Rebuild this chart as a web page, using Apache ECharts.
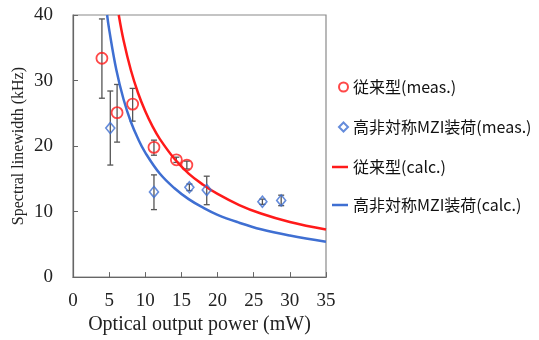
<!DOCTYPE html>
<html>
<head>
<meta charset="utf-8">
<script src="https://cdn.jsdelivr.net/npm/echarts@6/dist/echarts.min.js"></script>
<style>html,body{margin:0;padding:0;background:#fff;}#c{width:539px;height:340px;}</style>
</head>
<body>
<div id="c"></div>
<script>
// ---- data ----
const seriesNames = ['従来型(meas.)', '高非対称MZI装荷(meas.)', '従来型(calc.)', '高非対称MZI装荷(calc.)'];
const xTicks = [0, 5, 10, 15, 20, 25, 30, 35];
const yTicks = [0, 10, 20, 30, 40];

// conventional, measured: [power mW, linewidth kHz]
const convMeasX = [4.0, 6.1, 8.25, 11.2, 14.3, 15.75];
const convMeasY = [33.4, 25.1, 26.4, 19.8, 17.9, 17.1];
const convErrLow = [27.3, 20.6, 23.8, 18.6, 17.5, 16.5];
const convErrHigh = [39.4, 29.4, 28.8, 20.9, 18.3, 17.7];

// high-asymmetry MZI loaded, measured
const mziMeasX = [5.16, 11.2, 16.1, 18.5, 26.2, 28.8];
const mziMeasY = [22.75, 13.0, 13.7, 13.3, 11.5, 11.7];
const mziErrLow = [17.1, 10.3, 13.2, 11.05, 11.1, 10.9];
const mziErrHigh = [28.4, 15.6, 14.2, 15.4, 11.9, 12.5];

// calculated curves
const convCalcX = [6.33, 7, 8, 9, 10, 11, 12, 14, 16, 18, 20, 23, 26, 30, 35];
const convCalcY = [40.0, 36.1, 31.6, 28.1, 25.3, 23.0, 21.1, 18.1, 15.8, 14.1, 12.7, 11.0, 9.7, 8.4, 7.25];
const mziCalcX = [4.72, 5, 6, 7, 8, 9, 10, 12, 14, 16, 18, 20, 23, 26, 30, 35];
const mziCalcY = [40.0, 37.8, 31.6, 27.1, 23.7, 21.1, 19.0, 15.8, 13.6, 11.9, 10.6, 9.5, 8.3, 7.3, 6.35, 5.4];

const zip = (a, b) => a.map((v, i) => [v, b[i]]);
const zip3 = (a, b, c) => a.map((v, i) => [v, b[i], c[i]]);

const RED = '#ff1a1a';
const BLUE = '#3f6fd2';
const serif = 'Liberation Serif';
const cjk = 'Noto Sans CJK JP';

function errRender(params, api) {
  const x = api.value(0), lo = api.value(1), hi = api.value(2);
  const p1 = api.coord([x, hi]);
  const p2 = api.coord([x, lo]);
  const cw = 3;
  const st = { stroke: '#555', lineWidth: 1.3 };
  return {
    type: 'group',
    children: [
      { type: 'line', shape: { x1: p1[0], y1: p1[1], x2: p2[0], y2: p2[1] }, style: st },
      { type: 'line', shape: { x1: p1[0] - cw, y1: p1[1], x2: p1[0] + cw, y2: p1[1] }, style: st },
      { type: 'line', shape: { x1: p2[0] - cw, y1: p2[1], x2: p2[0] + cw, y2: p2[1] }, style: st }
    ]
  };
}

const legendText = { fontFamily: cjk, fontSize: 16, color: '#111' };

const chart = echarts.init(document.getElementById('c'), null, { renderer: 'canvas' });
chart.setOption({
  animation: false,
  backgroundColor: '#fff',
  grid: { left: 73, right: 213, top: 15, bottom: 62, show: true, borderColor: '#8a8a8a', borderWidth: 1.2, backgroundColor: 'transparent' },
  legend: [
    {
      orient: 'vertical',
      left: 333,
      top: 74,
      itemWidth: 9,
      itemHeight: 9,
      itemGap: 24,
      textStyle: legendText,
      data: [
        { name: seriesNames[0], icon: 'circle' },
        { name: seriesNames[1], icon: 'diamond' }
      ]
    },
    {
      orient: 'vertical',
      left: 327,
      top: 154,
      itemWidth: 16,
      itemHeight: 2.5,
      itemGap: 22,
      textStyle: legendText,
      data: [
        { name: seriesNames[2], icon: 'rect' },
        { name: seriesNames[3], icon: 'rect' }
      ]
    }
  ],
  xAxis: {
    type: 'value',
    min: xTicks[0],
    max: xTicks[xTicks.length - 1],
    interval: 5,
    name: 'Optical output power (mW)',
    nameLocation: 'middle',
    nameGap: 34,
    nameTextStyle: { fontFamily: serif, fontSize: 20, color: '#222' },
    axisLine: { lineStyle: { color: '#666', width: 1.2 } },
    axisTick: { inside: true, length: 5, lineStyle: { color: '#666' } },
    axisLabel: { fontFamily: serif, fontSize: 19, color: '#222', margin: 14 },
    splitLine: { show: false }
  },
  yAxis: {
    type: 'value',
    min: yTicks[0],
    max: yTicks[yTicks.length - 1],
    interval: 10,
    name: 'Spectral linewidth (kHz)',
    nameLocation: 'middle',
    nameGap: 46,
    nameTextStyle: { fontFamily: serif, fontSize: 16, color: '#222' },
    axisLine: { show: true, lineStyle: { color: '#666', width: 1.2 } },
    axisTick: { show: true, inside: true, length: 5, lineStyle: { color: '#666' } },
    axisLabel: { fontFamily: serif, fontSize: 19, color: '#222', margin: 20 },
    splitLine: { show: false }
  },
  series: [
    {
      type: 'custom', name: 'err1', renderItem: errRender,
      data: zip3(convMeasX, convErrLow, convErrHigh), encode: { x: 0, y: [1, 2] }, z: 1, silent: true
    },
    {
      type: 'custom', name: 'err2', renderItem: errRender,
      data: zip3(mziMeasX, mziErrLow, mziErrHigh), encode: { x: 0, y: [1, 2] }, z: 1, silent: true
    },
    {
      type: 'line', name: seriesNames[2], data: zip(convCalcX, convCalcY), smooth: 0.4,
      showSymbol: false, symbol: 'none', lineStyle: { color: RED, width: 2.5 }, itemStyle: { color: RED }, z: 2
    },
    {
      type: 'line', name: seriesNames[3], data: zip(mziCalcX, mziCalcY), smooth: 0.4,
      showSymbol: false, symbol: 'none', lineStyle: { color: BLUE, width: 2.5 }, itemStyle: { color: BLUE }, z: 2
    },
    {
      type: 'scatter', name: seriesNames[0], data: zip(convMeasX, convMeasY), symbol: 'circle', symbolSize: 11,
      itemStyle: { color: 'rgba(255,255,255,0)', borderColor: RED, borderWidth: 1.8 }, z: 3
    },
    {
      type: 'scatter', name: seriesNames[1], data: zip(mziMeasX, mziMeasY), symbol: 'diamond', symbolSize: [9, 11],
      itemStyle: { color: 'rgba(255,255,255,0)', borderColor: BLUE, borderWidth: 1.6 }, z: 3
    }
  ]
});
</script>
</body>
</html>
